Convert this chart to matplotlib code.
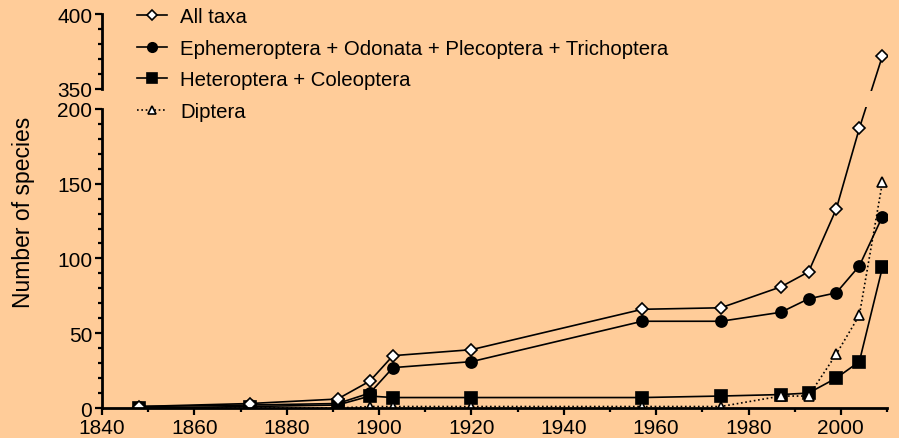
import numpy as np
import matplotlib
matplotlib.use("Agg")
import matplotlib.pyplot as plt
from matplotlib.ticker import FixedLocator

plt.rcParams['font.family'] = ['Liberation Sans', 'DejaVu Sans']
plt.rcParams['font.size'] = 15

years = [1848, 1872, 1891, 1898, 1903, 1920, 1957, 1974, 1987, 1993, 1999, 2004, 2009]
all_taxa = [1, 3, 6, 18, 35, 39, 66, 67, 81, 91, 133, 187, 372]
eopt = [1, 2, 3, 10, 27, 31, 58, 58, 64, 73, 77, 95, 128]
het_col = [0, 1, 2, 8, 7, 7, 7, 8, 9, 10, 20, 31, 94]
diptera = [0, 0, 0, 1, 1, 1, 1, 1, 8, 8, 36, 62, 151]

labels = ["All taxa",
          "Ephemeroptera + Odonata + Plecoptera + Trichoptera",
          "Heteroptera + Coleoptera",
          "Diptera"]

bg = '#FFCC99'

# broken y axis: 0-200 and 350-400 with a short squeezed gap in between
LO, HI, GAP = 200.0, 350.0, 13.4


def fwd(y):
    y = np.asarray(y, dtype=float)
    return np.where(y <= LO, y,
                    np.where(y >= HI, y - HI + LO + GAP,
                             LO + (y - LO) * GAP / (HI - LO)))


def inv(u):
    u = np.asarray(u, dtype=float)
    return np.where(u <= LO, u,
                    np.where(u >= LO + GAP, u - LO - GAP + HI,
                             LO + (u - LO) * (HI - LO) / GAP))


fig = plt.figure(figsize=(8.99, 4.39), dpi=100, facecolor=bg)
ax = fig.add_axes([0.1135, 0.0683, 0.8732, 0.8975])
ax.set_facecolor(bg)
ax.set_yscale('function', functions=(fwd, inv))

ms_kw = dict(color='black', lw=1.2, markeredgecolor='black', markeredgewidth=1.2)
l3, = ax.plot(years, het_col, marker='s', ms=8, markerfacecolor='black', **ms_kw)
l4, = ax.plot(years, diptera, marker='^', ms=7.5, markerfacecolor='white',
              ls=(0, (1, 1.6)), **ms_kw)
l2, = ax.plot(years, eopt, marker='o', ms=8, markerfacecolor='black', **ms_kw)
l1, = ax.plot(years, all_taxa, marker='D', ms=6.2, markerfacecolor='white', **ms_kw)

# blank the lines where they pass through the axis break
ax.axhspan(214, 336, color=bg, lw=0, zorder=2.5)

ax.set_xlim(1840, 2010)
ax.set_ylim(0, 400)
ax.xaxis.set_major_locator(FixedLocator(range(1840, 2001, 20)))
ax.xaxis.set_minor_locator(FixedLocator(range(1850, 2011, 20)))
ax.yaxis.set_major_locator(FixedLocator([0, 50, 100, 150, 200, 350, 400]))
ax.yaxis.set_minor_locator(FixedLocator([v for v in range(10, 200, 10) if v % 50]
                                        + [360, 370, 380, 390]))

for s in ['top', 'right']:
    ax.spines[s].set_visible(False)
for s in ['left', 'bottom']:
    ax.spines[s].set_linewidth(2)
ax.spines['left'].set_bounds(0, 200)
ax.plot([0, 0], [350, 400], transform=ax.get_yaxis_transform(), color='black',
        lw=2, clip_on=False, solid_capstyle='projecting', zorder=3)

ax.tick_params(which='major', length=5, width=1.6, direction='out', labelsize=15, pad=2)
ax.tick_params(which='minor', length=3, width=1.6, direction='out')

ax.set_ylabel("Number of species", fontsize=16.5)
ax.yaxis.set_label_coords(-0.086, 0.5)

fig.legend([l1, l2, l3, l4], labels, loc='upper left',
           bbox_to_anchor=(137 / 899, 1 - 8 / 439), frameon=False,
           borderpad=0, borderaxespad=0, handlelength=1.47, handletextpad=0.64,
           labelspacing=0.62, markerscale=0.85, fontsize=14.7)

fig.savefig("out.png", dpi=100, facecolor=bg)
